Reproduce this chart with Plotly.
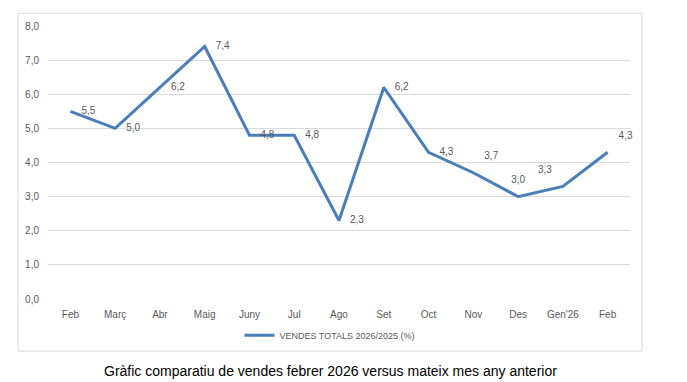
import plotly.graph_objects as go

months = ["Feb", "Març", "Abr", "Maig", "Juny", "Jul", "Ago", "Set", "Oct", "Nov", "Des", "Gen'26", "Feb"]
values = [5.5, 5.0, 6.2, 7.4, 4.8, 4.8, 2.3, 6.2, 4.3, 3.7, 3.0, 3.3, 4.3]
y_ticks = [0, 1, 2, 3, 4, 5, 6, 7, 8]
series_name = "VENDES TOTALS 2026/2025 (%)"
caption = "Gràfic comparatiu de vendes febrer 2026 versus mateix mes any anterior"

xs = list(range(len(months)))
labels = [f"{v:.1f}".replace(".", ",") for v in values]
label_pos = ["middle right"] * 9 + ["top right", "top center", "top left", "top right"]

OFF = 8  # page body margin
W, H = 687 - OFF, 382 - OFF
L, R, T, B = 48 - OFF, 630 - OFF, 21 - OFF, 299 - OFF
pw, ph = R - L, B - T


def px(x):
    return (x - OFF - L) / pw


def py(y):
    return (B - (y - OFF)) / ph


fig = go.Figure()
fig.add_trace(go.Scatter(
    x=xs, y=values, mode="lines+markers+text", name=series_name,
    text=labels, textposition=label_pos,
    textfont=dict(family="Liberation Sans", size=10, color="#595959"),
    line=dict(color="#4a7ebb", width=3),
    marker=dict(size=16, color="rgba(0,0,0,0)", line=dict(width=0)),
    cliponaxis=False,
))

fig.update_layout(
    width=W, height=H,
    margin=dict(l=L, r=W - R, t=T, b=H - B, pad=0),
    paper_bgcolor="white", plot_bgcolor="white",
    separators=",.",
    showlegend=True,
    legend=dict(orientation="h", x=px(330), xanchor="center", y=py(336), yanchor="middle",
                font=dict(family="Liberation Sans", size=9, color="#595959"),
                itemwidth=30, bgcolor="rgba(0,0,0,0)"),
    xaxis=dict(range=[-0.5, len(months) - 0.5], tickvals=xs, ticktext=months,
               showgrid=False, zeroline=False, showline=False, ticks="",
               tickfont=dict(family="Liberation Sans", size=10, color="#595959"),
               ticklabelstandoff=8),
    yaxis=dict(range=[0, 8], tickvals=y_ticks, tickformat=".1f",
               showgrid=True, gridcolor="#d9d9d9", gridwidth=1,
               zeroline=False, showline=False, ticks="",
               tickfont=dict(family="Liberation Sans", size=10, color="#595959"),
               ticklabelstandoff=8),
    shapes=[dict(type="rect", xref="paper", yref="paper",
                 x0=px(18), x1=px(642), y0=py(352), y1=py(8),
                 line=dict(color="#d9d9d9", width=1), fillcolor="rgba(0,0,0,0)", layer="below")],
    annotations=[dict(text=caption, xref="paper", yref="paper", x=px(330), y=py(372),
                      xanchor="center", yanchor="middle", showarrow=False,
                      font=dict(family="Liberation Sans", size=14, color="black"))],
)

fig.write_html("out.html")
